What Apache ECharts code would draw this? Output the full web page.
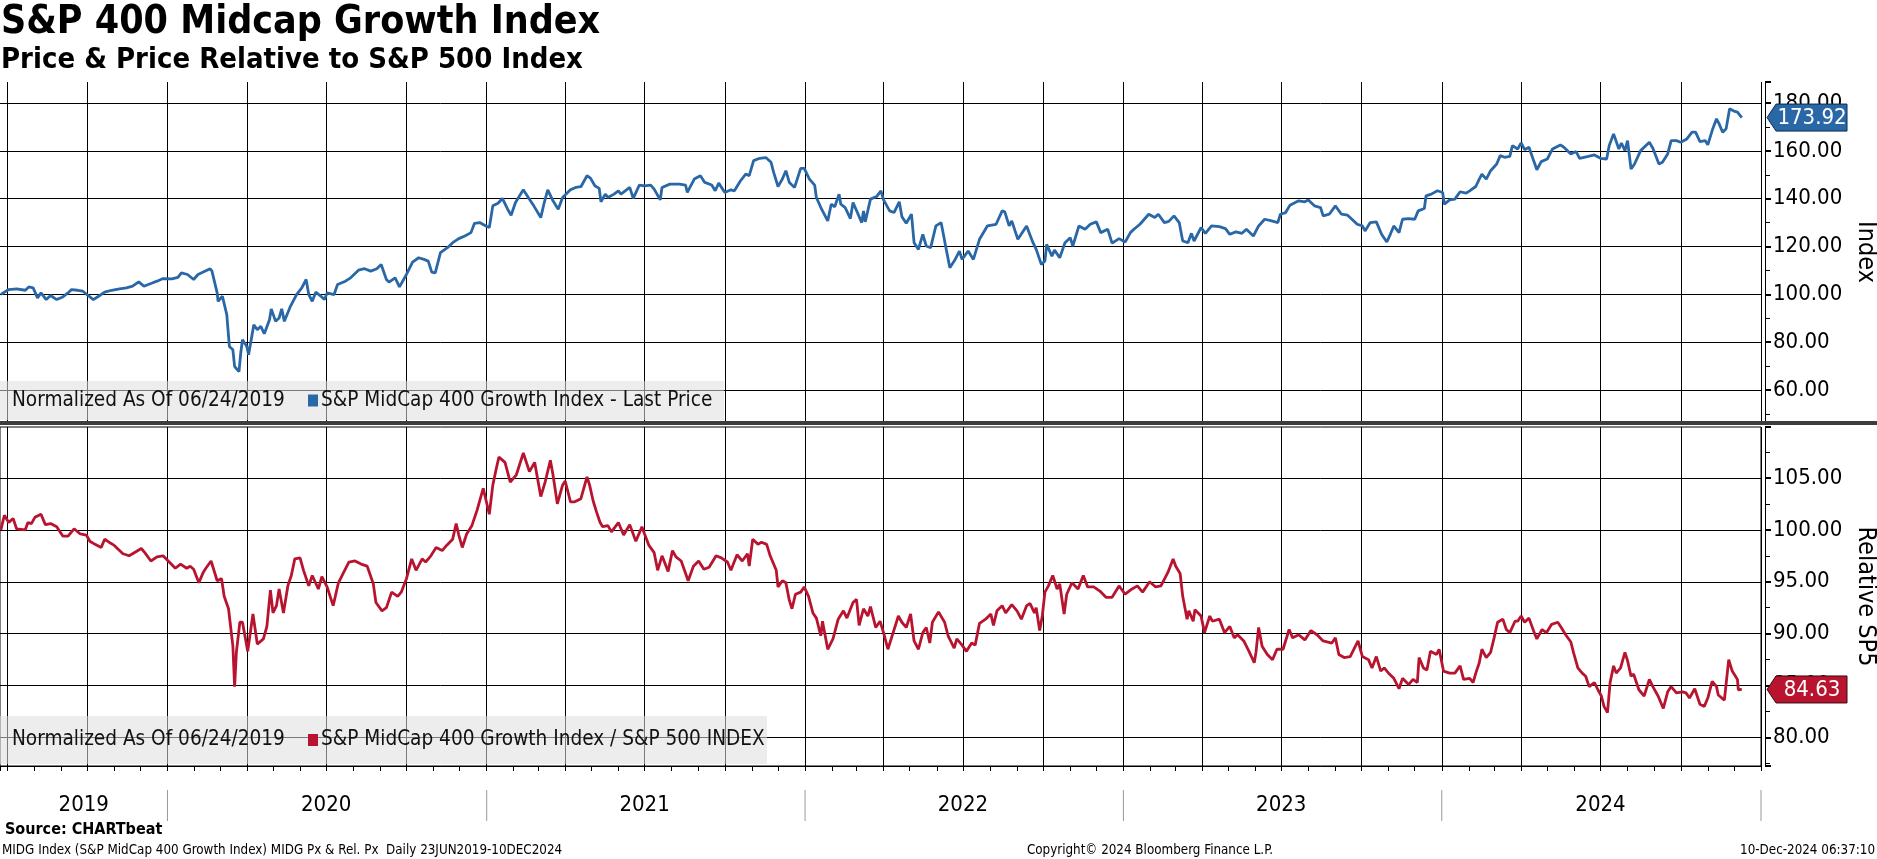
<!DOCTYPE html>
<html><head><meta charset="utf-8">
<script src="https://cdn.jsdelivr.net/npm/echarts@6/dist/echarts.min.js"></script>
<style>html,body{margin:0;padding:0;background:#fff}#c{width:1877px;height:859px}</style>
</head><body><div id="c"></div>
<script>
const FONT = 'DejaVu Sans Condensed, DejaVu Sans, sans-serif';
const TITLE = 'S&P 400 Midcap Growth Index';
const SUBTITLE = 'Price & Price Relative to S&P 500 Index';
const AXIS_MIN = '2019-06-23';
const AXIS_MAX = '2025-01-01';
const quarterDates = ['2019-07-01','2019-10-01','2020-01-01','2020-04-01','2020-07-01','2020-10-01','2021-01-01','2021-04-01','2021-07-01','2021-10-01','2022-01-01','2022-04-01','2022-07-01','2022-10-01','2023-01-01','2023-04-01','2023-07-01','2023-10-01','2024-01-01','2024-04-01','2024-07-01','2024-10-01','2025-01-01'];
const yearLabels = ['2019','2020','2021','2022','2023','2024'];
const yearStarts = ['2020-01-01','2021-01-01','2022-01-01','2023-01-01','2024-01-01','2025-01-01'];
const priceName = 'S&P MidCap 400 Growth Index - Last Price';
const relName = 'S&P MidCap 400 Growth Index / S&P 500 INDEX';
const normText = 'Normalized As Of 06/24/2019';
const lastPrice = 173.92;
const lastRel = 84.63;

const priceData = [
['2019-06-24',100.0],['2019-07-03',102.0],['2019-07-12',102.3],['2019-07-22',101.7],['2019-07-26',103.1],['2019-07-31',102.7],
['2019-08-05',98.5],['2019-08-09',100.6],['2019-08-15',97.8],['2019-08-20',99.5],['2019-08-27',97.8],['2019-09-03',98.9],
['2019-09-09',100.6],['2019-09-13',102.0],['2019-09-20',101.7],['2019-09-26',101.3],['2019-10-03',99.2],['2019-10-08',97.8],
['2019-10-14',99.2],['2019-10-21',100.9],['2019-10-29',101.7],['2019-11-07',102.3],['2019-11-15',102.7],['2019-11-22',103.4],
['2019-11-29',105.2],['2019-12-05',103.4],['2019-12-13',104.5],['2019-12-20',105.5],['2019-12-27',106.6],['2020-01-06',106.5],
['2020-01-13',107.1],['2020-01-17',109.0],['2020-01-24',108.3],['2020-01-31',106.2],['2020-02-05',108.3],['2020-02-11',109.3],
['2020-02-19',110.7],['2020-02-21',109.7],['2020-02-27',100.6],['2020-02-28',97.1],['2020-03-04',99.2],['2020-03-09',91.5],
['2020-03-12',78.2],['2020-03-16',76.8],['2020-03-18',69.8],['2020-03-23',67.7],['2020-03-25',75.4],['2020-03-27',81.0],
['2020-04-01',78.2],['2020-04-03',74.7],['2020-04-09',87.3],['2020-04-13',85.2],['2020-04-17',86.6],['2020-04-21',83.5],
['2020-04-27',89.4],['2020-04-29',93.9],['2020-05-04',88.7],['2020-05-08',90.1],['2020-05-11',93.9],['2020-05-14',88.7],
['2020-05-21',95.0],['2020-05-28',99.9],['2020-06-03',102.7],['2020-06-08',106.2],['2020-06-11',99.9],['2020-06-15',97.1],
['2020-06-19',100.9],['2020-06-24',99.5],['2020-06-29',97.8],['2020-07-02',100.6],['2020-07-10',99.9],['2020-07-14',104.1],
['2020-07-23',105.5],['2020-07-29',106.9],['2020-08-07',110.1],['2020-08-14',110.7],['2020-08-21',109.7],['2020-08-28',110.7],
['2020-09-02',112.5],['2020-09-08',106.2],['2020-09-11',105.1],['2020-09-18',106.9],['2020-09-23',103.1],['2020-10-01',108.3],
['2020-10-08',113.5],['2020-10-15',115.3],['2020-10-21',114.6],['2020-10-26',113.9],['2020-10-30',109.3],['2020-11-03',109.0],
['2020-11-09',117.4],['2020-11-17',119.5],['2020-11-23',121.6],['2020-11-30',123.3],['2020-12-07',124.4],['2020-12-14',125.8],
['2020-12-18',129.7],['2020-12-24',130.0],['2020-12-31',128.6],['2021-01-04',127.9],['2021-01-08',137.0],['2021-01-14',138.1],
['2021-01-19',140.1],['2021-01-25',135.6],['2021-01-29',133.1],['2021-02-03',138.4],['2021-02-10',142.6],['2021-02-12',143.7],
['2021-02-19',139.8],['2021-02-24',137.0],['2021-03-04',132.1],['2021-03-08',138.4],['2021-03-12',143.7],['2021-03-18',139.1],
['2021-03-24',135.6],['2021-03-29',140.5],['2021-04-07',143.7],['2021-04-13',144.7],['2021-04-19',145.0],['2021-04-26',149.6],
['2021-04-30',148.6],['2021-05-05',145.4],['2021-05-10',144.3],['2021-05-12',138.7],['2021-05-17',141.9],['2021-05-20',140.5],
['2021-05-27',141.9],['2021-06-01',143.3],['2021-06-04',141.9],['2021-06-14',144.7],['2021-06-18',140.1],['2021-06-25',145.7],
['2021-07-01',145.4],['2021-07-08',145.7],['2021-07-12',144.0],['2021-07-19',139.5],['2021-07-21',144.7],['2021-07-30',146.1],
['2021-08-10',146.1],['2021-08-17',145.7],['2021-08-19',142.6],['2021-08-27',148.2],['2021-09-03',149.6],['2021-09-08',146.8],
['2021-09-16',145.7],['2021-09-20',143.3],['2021-09-24',146.5],['2021-10-01',142.6],['2021-10-08',143.7],['2021-10-12',143.3],
['2021-10-19',147.5],['2021-10-25',150.3],['2021-10-29',149.6],['2021-11-03',155.9],['2021-11-10',156.9],['2021-11-17',157.2],
['2021-11-23',155.2],['2021-11-26',151.0],['2021-12-01',145.1],['2021-12-06',148.2],['2021-12-10',151.7],['2021-12-14',146.8],
['2021-12-20',144.7],['2021-12-27',152.7],['2021-12-31',152.7],['2022-01-06',148.2],['2022-01-12',145.7],['2022-01-14',140.5],
['2022-01-20',135.6],['2022-01-27',130.7],['2022-01-31',137.7],['2022-02-04',136.6],['2022-02-09',141.9],['2022-02-11',137.7],
['2022-02-16',136.3],['2022-02-22',131.7],['2022-02-25',138.4],['2022-03-07',130.0],['2022-03-09',134.9],['2022-03-11',130.3],
['2022-03-17',139.8],['2022-03-24',140.9],['2022-03-29',143.3],['2022-04-01',139.5],['2022-04-08',134.9],['2022-04-13',134.2],
['2022-04-19',138.7],['2022-04-22',132.5],['2022-04-27',129.7],['2022-05-03',133.5],['2022-05-06',121.6],['2022-05-11',118.8],
['2022-05-16',125.1],['2022-05-20',120.2],['2022-05-25',119.5],['2022-05-31',128.6],['2022-06-06',130.0],['2022-06-13',116.7],
['2022-06-16',111.1],['2022-06-21',113.9],['2022-06-27',118.1],['2022-06-30',114.6],['2022-07-07',118.1],['2022-07-13',114.6],
['2022-07-20',123.0],['2022-07-29',128.6],['2022-08-08',129.3],['2022-08-15',134.9],['2022-08-18',134.5],['2022-08-23',128.6],
['2022-08-26',130.7],['2022-09-02',123.0],['2022-09-12',128.6],['2022-09-19',121.9],['2022-09-23',118.8],['2022-09-29',112.5],
['2022-10-03',113.9],['2022-10-05',120.9],['2022-10-11',116.0],['2022-10-14',118.5],['2022-10-20',115.3],['2022-10-26',121.6],
['2022-11-01',123.7],['2022-11-04',120.2],['2022-11-11',128.6],['2022-11-18',127.2],['2022-11-24',129.3],['2022-12-01',130.3],
['2022-12-06',125.8],['2022-12-14',127.2],['2022-12-19',121.4],['2022-12-27',123.3],['2023-01-03',121.9],['2023-01-09',125.8],
['2023-01-13',127.2],['2023-01-20',129.3],['2023-01-30',133.5],['2023-02-06',132.1],['2023-02-10',133.5],['2023-02-17',130.0],
['2023-02-22',130.5],['2023-02-28',132.8],['2023-03-06',130.0],['2023-03-10',122.3],['2023-03-16',121.6],['2023-03-20',125.5],
['2023-03-23',122.3],['2023-03-31',127.9],['2023-04-05',125.5],['2023-04-12',128.6],['2023-04-21',128.3],['2023-04-28',127.5],
['2023-05-03',125.1],['2023-05-10',126.1],['2023-05-17',125.5],['2023-05-22',127.2],['2023-05-30',124.4],['2023-06-05',128.6],
['2023-06-12',131.4],['2023-06-20',130.7],['2023-06-27',130.0],['2023-06-30',133.5],['2023-07-06',134.2],['2023-07-11',137.3],
['2023-07-17',138.4],['2023-07-21',139.1],['2023-07-28',138.7],['2023-08-01',139.5],['2023-08-08',137.0],['2023-08-15',136.3],
['2023-08-18',132.8],['2023-08-25',133.5],['2023-09-01',137.0],['2023-09-08',133.5],['2023-09-15',133.1],['2023-09-20',131.4],
['2023-09-26',129.3],['2023-10-02',128.6],['2023-10-05',126.5],['2023-10-11',130.0],['2023-10-18',130.3],['2023-10-24',125.1],
['2023-10-30',121.9],['2023-11-03',125.1],['2023-11-07',128.6],['2023-11-13',125.8],['2023-11-17',131.4],['2023-11-24',131.7],
['2023-12-01',131.4],['2023-12-05',134.9],['2023-12-12',135.9],['2023-12-14',141.2],['2023-12-20',141.9],['2023-12-27',143.3],
['2024-01-02',142.6],['2024-01-04',137.7],['2024-01-10',139.5],['2024-01-16',139.8],['2024-01-22',142.9],['2024-01-29',142.3],
['2024-02-02',143.3],['2024-02-09',145.1],['2024-02-13',148.2],['2024-02-16',150.3],['2024-02-21',148.2],['2024-02-26',151.7],
['2024-03-04',154.5],['2024-03-08',158.0],['2024-03-13',157.3],['2024-03-19',157.7],['2024-03-22',162.2],['2024-03-28',160.8],
['2024-04-01',163.3],['2024-04-05',160.5],['2024-04-10',161.5],['2024-04-16',155.2],['2024-04-19',152.1],['2024-04-24',155.5],
['2024-05-01',156.6],['2024-05-07',160.8],['2024-05-16',162.5],['2024-05-20',161.5],['2024-05-28',158.7],['2024-06-03',159.7],
['2024-06-07',156.9],['2024-06-17',157.7],['2024-06-24',158.3],['2024-07-01',156.9],['2024-07-08',156.6],['2024-07-11',162.2],
['2024-07-16',167.1],['2024-07-22',160.8],['2024-07-25',163.3],['2024-07-29',160.1],['2024-08-01',164.3],['2024-08-05',152.4],
['2024-08-09',154.5],['2024-08-16',160.1],['2024-08-26',163.6],['2024-08-30',161.1],['2024-09-06',154.5],['2024-09-10',155.2],
['2024-09-16',158.7],['2024-09-20',164.3],['2024-09-26',164.3],['2024-10-01',163.6],['2024-10-08',165.0],['2024-10-14',167.8],
['2024-10-18',167.8],['2024-10-23',163.9],['2024-10-29',164.3],['2024-11-01',162.5],['2024-11-06',168.5],['2024-11-11',173.4],
['2024-11-14',171.3],['2024-11-18',167.8],['2024-11-22',169.2],['2024-11-26',177.6],['2024-12-02',176.5],['2024-12-05',176.2],
['2024-12-10',173.92]
];

const relData = [
['2019-06-24',100.0],['2019-06-28',101.4],['2019-07-03',100.7],['2019-07-08',101.1],['2019-07-12',100.1],['2019-07-22',100.0],
['2019-07-25',100.7],['2019-07-29',100.6],['2019-08-02',101.2],['2019-08-09',101.5],['2019-08-14',100.5],['2019-08-20',100.6],
['2019-08-27',100.3],['2019-09-03',99.4],['2019-09-09',99.4],['2019-09-16',100.1],['2019-09-23',99.6],['2019-09-30',99.5],
['2019-10-04',98.9],['2019-10-10',98.6],['2019-10-17',98.3],['2019-10-21',99.1],['2019-10-28',98.7],['2019-11-01',98.5],
['2019-11-11',97.7],['2019-11-18',97.5],['2019-11-22',97.7],['2019-12-02',98.2],['2019-12-06',97.8],['2019-12-13',97.0],
['2019-12-20',97.4],['2019-12-27',97.5],['2020-01-03',96.9],['2020-01-10',96.3],['2020-01-16',96.7],['2020-01-23',96.3],
['2020-01-27',96.5],['2020-01-31',96.2],['2020-02-06',94.9],['2020-02-11',95.9],['2020-02-14',96.3],['2020-02-20',97.0],
['2020-02-21',97.1],['2020-02-27',95.1],['2020-03-03',95.3],['2020-03-06',93.6],['2020-03-11',92.4],['2020-03-16',88.8],
['2020-03-18',84.9],['2020-03-20',88.2],['2020-03-24',91.1],['2020-03-27',91.1],['2020-04-02',88.3],['2020-04-08',91.9],
['2020-04-13',89.0],['2020-04-20',89.5],['2020-04-24',90.7],['2020-04-28',94.2],['2020-05-01',92.0],['2020-05-05',92.7],
['2020-05-08',94.3],['2020-05-13',92.0],['2020-05-18',94.6],['2020-05-22',95.6],['2020-05-26',97.2],['2020-06-01',97.3],
['2020-06-05',96.1],['2020-06-11',94.6],['2020-06-15',95.6],['2020-06-22',94.3],['2020-06-26',95.5],['2020-07-02',94.5],
['2020-07-09',92.7],['2020-07-15',94.9],['2020-07-21',95.9],['2020-07-27',96.9],['2020-08-03',97.0],['2020-08-10',96.7],
['2020-08-17',96.5],['2020-08-24',94.8],['2020-08-27',93.0],['2020-09-03',92.2],['2020-09-08',92.5],['2020-09-14',94.0],
['2020-09-21',93.6],['2020-09-25',94.0],['2020-10-01',95.3],['2020-10-07',97.2],['2020-10-12',96.1],['2020-10-19',97.2],
['2020-10-23',96.9],['2020-10-29',97.5],['2020-11-04',98.3],['2020-11-11',98.0],['2020-11-16',98.5],['2020-11-23',99.1],
['2020-11-27',100.6],['2020-11-30',99.5],['2020-12-04',98.3],['2020-12-09',99.6],['2020-12-15',100.4],['2020-12-21',101.9],
['2020-12-28',104.0],['2021-01-04',101.5],['2021-01-08',104.3],['2021-01-12',105.9],['2021-01-15',107.0],['2021-01-22',106.5],
['2021-01-28',104.6],['2021-02-04',105.3],['2021-02-12',107.4],['2021-02-19',105.6],['2021-02-25',106.5],['2021-03-04',103.2],
['2021-03-09',104.6],['2021-03-15',106.7],['2021-03-18',105.3],['2021-03-23',102.5],['2021-03-29',104.3],['2021-04-01',104.7],
['2021-04-07',102.7],['2021-04-12',102.7],['2021-04-19',103.0],['2021-04-26',105.1],['2021-04-29',104.3],['2021-05-03',102.8],
['2021-05-07',101.7],['2021-05-11',100.7],['2021-05-14',100.3],['2021-05-20',100.4],['2021-05-24',99.8],['2021-06-01',100.7],
['2021-06-07',99.5],['2021-06-14',100.5],['2021-06-21',98.9],['2021-06-28',100.3],['2021-07-01',99.6],['2021-07-06',98.5],
['2021-07-12',97.8],['2021-07-16',96.1],['2021-07-21',97.5],['2021-07-28',96.0],['2021-08-02',98.0],['2021-08-06',97.4],
['2021-08-12',97.0],['2021-08-20',95.1],['2021-08-26',96.5],['2021-09-01',97.0],['2021-09-07',96.2],['2021-09-13',96.4],
['2021-09-21',97.5],['2021-09-27',97.3],['2021-10-04',96.9],['2021-10-08',96.1],['2021-10-15',97.6],['2021-10-21',97.0],
['2021-10-27',97.7],['2021-10-29',96.5],['2021-11-02',99.1],['2021-11-08',98.6],['2021-11-12',98.8],['2021-11-18',98.6],
['2021-11-22',97.5],['2021-11-29',96.1],['2021-12-01',94.5],['2021-12-06',95.1],['2021-12-10',94.9],['2021-12-14',93.2],
['2021-12-17',92.4],['2021-12-21',93.8],['2021-12-27',94.0],['2021-12-31',94.5],['2022-01-05',93.6],['2022-01-10',92.0],
['2022-01-14',91.5],['2022-01-19',89.8],['2022-01-21',91.2],['2022-01-27',88.5],['2022-02-02',89.5],['2022-02-08',91.4],
['2022-02-14',92.2],['2022-02-18',91.5],['2022-02-25',93.0],['2022-03-01',93.3],['2022-03-04',90.8],['2022-03-09',92.4],
['2022-03-14',91.7],['2022-03-17',92.6],['2022-03-23',90.6],['2022-03-28',91.2],['2022-04-01',90.1],['2022-04-06',88.5],
['2022-04-12',90.1],['2022-04-18',91.7],['2022-04-22',91.1],['2022-04-27',90.6],['2022-05-02',91.9],['2022-05-06',89.3],
['2022-05-11',88.5],['2022-05-16',90.1],['2022-05-20',90.6],['2022-05-24',89.1],['2022-05-27',91.1],['2022-06-03',92.1],
['2022-06-10',91.1],['2022-06-14',89.8],['2022-06-21',88.6],['2022-06-24',89.5],['2022-06-30',88.9],['2022-07-05',88.3],
['2022-07-11',89.1],['2022-07-15',88.9],['2022-07-20',91.0],['2022-07-27',91.4],['2022-08-02',91.9],['2022-08-05',90.8],
['2022-08-09',92.2],['2022-08-15',92.7],['2022-08-19',92.0],['2022-08-26',92.8],['2022-09-01',92.2],['2022-09-06',91.4],
['2022-09-12',92.7],['2022-09-16',92.9],['2022-09-21',92.0],['2022-09-23',92.5],['2022-09-27',90.3],['2022-09-30',91.7],
['2022-10-03',94.0],['2022-10-07',94.6],['2022-10-12',95.6],['2022-10-17',94.3],['2022-10-20',94.8],['2022-10-25',91.9],
['2022-10-28',93.8],['2022-11-03',94.9],['2022-11-10',94.3],['2022-11-16',95.6],['2022-11-21',94.5],['2022-11-28',94.5],
['2022-12-05',94.1],['2022-12-12',93.5],['2022-12-19',93.5],['2022-12-27',94.6],['2023-01-03',93.8],['2023-01-09',94.2],
['2023-01-17',94.6],['2023-01-23',94.0],['2023-01-31',95.0],['2023-02-07',94.5],['2023-02-13',94.6],['2023-02-21',95.9],
['2023-02-27',97.2],['2023-03-02',96.5],['2023-03-07',95.8],['2023-03-10',93.6],['2023-03-15',91.4],['2023-03-17',92.2],
['2023-03-22',91.2],['2023-03-24',92.3],['2023-03-31',91.7],['2023-04-04',90.1],['2023-04-10',91.7],['2023-04-13',91.2],
['2023-04-21',91.4],['2023-04-27',90.1],['2023-05-03',90.7],['2023-05-08',89.6],['2023-05-12',89.9],['2023-05-19',89.3],
['2023-05-25',88.3],['2023-05-31',87.2],['2023-06-02',88.2],['2023-06-05',90.6],['2023-06-09',88.8],['2023-06-15',88.0],
['2023-06-21',87.5],['2023-06-26',88.5],['2023-07-03',88.5],['2023-07-10',90.4],['2023-07-14',89.6],['2023-07-21',89.9],
['2023-07-28',89.4],['2023-08-04',90.3],['2023-08-11',89.9],['2023-08-18',89.3],['2023-08-28',89.1],['2023-09-01',89.6],
['2023-09-05',88.0],['2023-09-11',87.7],['2023-09-18',87.8],['2023-09-27',89.3],['2023-10-02',87.8],['2023-10-09',87.5],
['2023-10-13',86.7],['2023-10-18',87.8],['2023-10-23',86.4],['2023-10-27',86.7],['2023-11-01',86.2],['2023-11-07',85.7],
['2023-11-13',84.7],['2023-11-17',85.7],['2023-11-24',85.1],['2023-11-29',85.6],['2023-12-04',85.3],['2023-12-06',87.7],
['2023-12-11',86.7],['2023-12-15',86.5],['2023-12-19',88.3],['2023-12-26',88.0],['2023-12-29',88.5],['2024-01-03',86.4],
['2024-01-10',86.2],['2024-01-16',86.2],['2024-01-22',86.9],['2024-01-26',85.6],['2024-02-02',85.7],['2024-02-06',85.3],
['2024-02-09',86.2],['2024-02-13',87.2],['2024-02-16',88.5],['2024-02-21',87.7],['2024-02-26',88.2],['2024-03-01',89.6],
['2024-03-05',91.1],['2024-03-11',91.4],['2024-03-15',90.4],['2024-03-19',90.1],['2024-03-25',91.2],['2024-03-28',91.2],
['2024-04-01',91.7],['2024-04-05',91.1],['2024-04-10',91.5],['2024-04-16',90.1],['2024-04-19',89.5],['2024-04-25',90.4],
['2024-04-30',90.1],['2024-05-06',90.9],['2024-05-13',91.1],['2024-05-17',90.6],['2024-05-22',89.9],['2024-05-28',89.2],
['2024-05-31',88.2],['2024-06-05',86.7],['2024-06-10',86.2],['2024-06-14',85.9],['2024-06-18',84.9],['2024-06-24',85.3],
['2024-06-28',84.6],['2024-07-02',84.0],['2024-07-05',83.0],['2024-07-09',82.4],['2024-07-12',85.3],['2024-07-16',86.9],
['2024-07-19',86.2],['2024-07-24',86.7],['2024-07-29',88.2],['2024-08-01',87.4],['2024-08-05',85.9],['2024-08-08',86.1],
['2024-08-14',84.6],['2024-08-20',84.0],['2024-08-26',85.6],['2024-08-30',84.9],['2024-09-05',84.0],['2024-09-11',82.8],
['2024-09-16',84.4],['2024-09-20',84.9],['2024-09-26',84.3],['2024-10-03',84.4],['2024-10-07',84.3],['2024-10-11',83.8],
['2024-10-17',84.7],['2024-10-23',83.2],['2024-10-28',83.0],['2024-11-01',83.8],['2024-11-06',85.4],['2024-11-11',84.9],
['2024-11-13',84.1],['2024-11-20',83.6],['2024-11-25',87.5],['2024-11-29',86.4],['2024-12-05',85.6],['2024-12-06',84.6],
['2024-12-10',84.63]
];

const BLUE = '#2a67a6';
const RED = '#b8142f';
const DAY = 86400000;
const tms = d => echarts.time.parse(d).getTime();

const chart = echarts.init(document.getElementById('c'), null, {renderer: 'canvas'});

function yAxisCfg(grid, min, max, name, gap) {
  return {
    gridIndex: grid, type: 'value', position: 'right', min: min, max: max, splitNumber: 7, offset: 4,
    axisLine: {show: true, lineStyle: {color: '#000', width: 1}},
    axisTick: {show: true, length: 6, lineStyle: {color: '#000', width: 2}},
    minorTick: {show: true, splitNumber: 2, length: 5, lineStyle: {color: '#000', width: 1}},
    axisLabel: {show: true, color: '#000', fontSize: 22, fontFamily: FONT, margin: 8,
      showMinLabel: false, showMaxLabel: false, formatter: v => v.toFixed(2)},
    splitLine: {show: true, showMinLine: false, showMaxLine: false, lineStyle: {color: '#000', width: 1}},
    minorSplitLine: {show: false},
    name: name, nameLocation: 'middle', nameRotate: -90, nameGap: gap,
    nameTextStyle: {color: '#000', fontSize: 25, fontFamily: FONT}
  };
}

const qLines = quarterDates.map(d => ({xAxis: tms(d)}));
const markCfg = {silent: true, symbol: ['none', 'none'], label: {show: false},
  lineStyle: {color: '#000', width: 1, type: 'solid'}, data: qLines, animation: false};

const option = {
  animation: false,
  backgroundColor: '#fff',
  textStyle: {fontFamily: FONT},
  grid: [
    {left: 0, top: 82, width: 1761, height: 340, show: false, containLabel: false, outerBoundsMode: 'none'},
    {left: 0, top: 427, width: 1761, height: 339, show: true, borderColor: '#000', borderWidth: 1,
      backgroundColor: 'transparent', containLabel: false, outerBoundsMode: 'none'}
  ],
  xAxis: [
    {gridIndex: 0, type: 'time', min: tms(AXIS_MIN), max: tms(AXIS_MAX),
      axisLine: {show: false}, axisTick: {show: false}, axisLabel: {show: false}, splitLine: {show: false}},
    {gridIndex: 1, type: 'time', min: tms(AXIS_MIN), max: tms(AXIS_MAX), minInterval: 28 * DAY, maxInterval: 31 * DAY,
      axisLine: {show: true, lineStyle: {color: '#000', width: 1}},
      axisTick: {show: true, length: 5, lineStyle: {color: '#000', width: 1}},
      axisLabel: {show: false}, splitLine: {show: false}}
  ],
  yAxis: [
    yAxisCfg(0, 46.6, 188.8, 'Index', 84),
    yAxisCfg(1, 77.26, 109.9, 'Relative SP5', 84)
  ],
  series: [
    {type: 'line', xAxisIndex: 0, yAxisIndex: 0, data: [], z: 1, markLine: markCfg},
    {type: 'line', xAxisIndex: 1, yAxisIndex: 1, data: [], z: 1, markLine: markCfg},
    {name: priceName, type: 'line', xAxisIndex: 0, yAxisIndex: 0, z: 5,
      data: priceData.map(p => [tms(p[0]), p[1]]), showSymbol: false, symbol: 'none',
      lineStyle: {color: BLUE, width: 2.8}, itemStyle: {color: BLUE}},
    {name: relName, type: 'line', xAxisIndex: 1, yAxisIndex: 1, z: 5,
      data: relData.map(p => [tms(p[0]), p[1]]), showSymbol: false, symbol: 'none',
      lineStyle: {color: RED, width: 2.8}, itemStyle: {color: RED}}
  ]
};
chart.setOption(option);

// ---- overlay graphics positioned through the chart's own scales ----
const xPix = d => chart.convertToPixel({xAxisIndex: 1}, tms(d));
const g = [];
g.push({type: 'text', left: 1, top: 3, style: {text: TITLE, fill: '#000', font: 'bold 39px ' + FONT}});
g.push({type: 'text', left: 1, top: 46, style: {text: SUBTITLE, fill: '#000', font: 'bold 29px ' + FONT}});
g.push({type: 'rect', shape: {x: 0, y: 421, width: 1877, height: 4}, style: {fill: '#3d3d3d'}, z: 50});

function legendBox(y, h, w, color, label) {
  g.push({type: 'rect', shape: {x: 0, y: y, width: w, height: h}, style: {fill: 'rgba(222,222,222,0.55)'}, z: 40});
  g.push({type: 'text', x: 12, y: y + h / 2, style: {text: normText, fill: '#111', font: '20.6px ' + FONT, verticalAlign: 'middle'}, z: 41});
  g.push({type: 'rect', shape: {x: 308, y: y + h / 2 - 6, width: 10, height: 12}, style: {fill: color}, z: 41});
  g.push({type: 'text', x: 321, y: y + h / 2, style: {text: label, fill: '#111', font: '20.6px ' + FONT, verticalAlign: 'middle'}, z: 41});
}
legendBox(381, 39, 724, BLUE, priceName);
legendBox(716, 48, 767, RED, relName);

function tag(yAxisIndex, val, color, stroke) {
  const y = chart.convertToPixel({yAxisIndex: yAxisIndex}, val);
  const x0 = 1767;
  g.push({type: 'polygon', zlevel: 1, shape: {points: [[x0, y], [x0 + 9, y - 13.5], [x0 + 80, y - 13.5], [x0 + 80, y + 13.5], [x0 + 9, y + 13.5]]},
    style: {fill: color, stroke: stroke, lineWidth: 1}, z: 60});
  g.push({type: 'text', zlevel: 1, x: x0 + 45, y: y + 1, style: {text: val.toFixed(2), fill: '#fff', font: '22px ' + FONT, align: 'center', verticalAlign: 'middle'}, z: 61});
}
tag(0, lastPrice, BLUE, '#0d2c4d');
tag(1, lastRel, RED, '#3a0a10');

const xStart = xPix(AXIS_MIN);
let prev = xStart;
yearLabels.forEach((yl, i) => {
  const xe = xPix(yearStarts[i]);
  const xm = i === 0 ? (prev + xe) / 2 : xPix(yl + '-07-01');
  g.push({type: 'text', x: xm, y: 805, style: {text: yl, fill: '#000', font: '22px ' + FONT, align: 'center', verticalAlign: 'middle'}});
  g.push({type: 'line', shape: {x1: xe, y1: 790, x2: xe, y2: 821}, style: {stroke: '#999', lineWidth: 1}});
  prev = xe;
});

g.push({type: 'text', x: 5, y: 830, style: {text: 'Source: CHARTbeat', fill: '#000', font: 'bold 16px ' + FONT, verticalAlign: 'middle'}});
g.push({type: 'text', x: 2, y: 851, style: {text: 'MIDG Index (S&P MidCap 400 Growth Index) MIDG Px & Rel. Px  Daily 23JUN2019-10DEC2024', fill: '#000', font: '13.3px ' + FONT, verticalAlign: 'middle'}});
g.push({type: 'text', x: 1150, y: 851, style: {text: 'Copyright\u00A9 2024 Bloomberg Finance L.P.', fill: '#000', font: '13.3px ' + FONT, align: 'center', verticalAlign: 'middle'}});
g.push({type: 'text', x: 1875, y: 851, style: {text: '10-Dec-2024 06:37:10', fill: '#000', font: '13.3px ' + FONT, align: 'right', verticalAlign: 'middle'}});

chart.setOption({graphic: {elements: g}});
</script>
</body></html>
